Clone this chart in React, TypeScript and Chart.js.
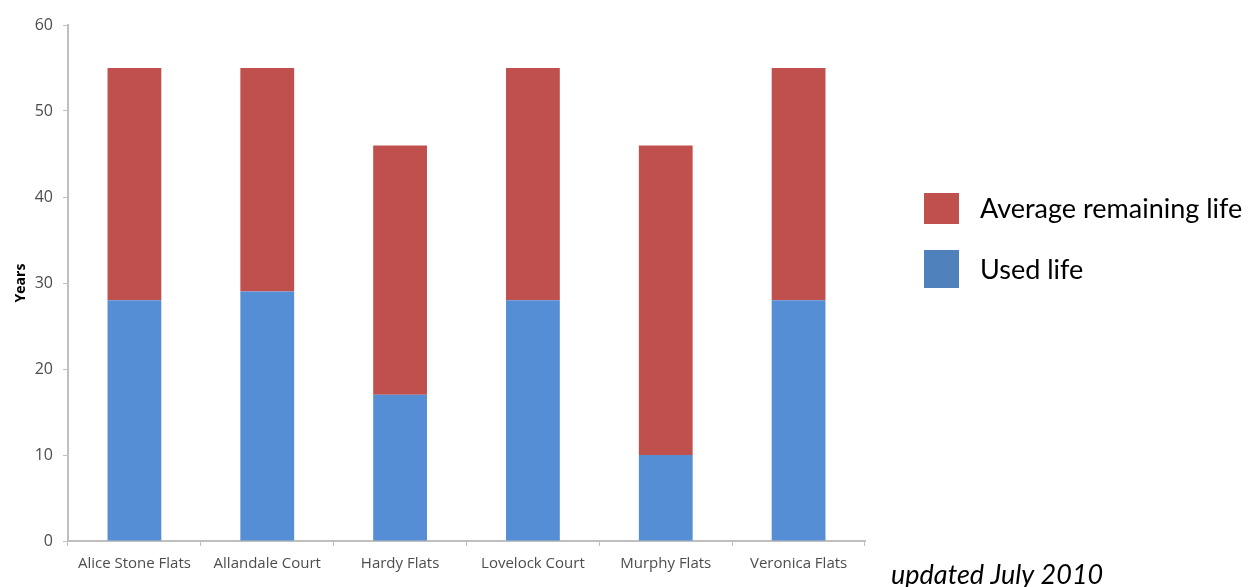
import React, { useEffect, useRef } from "react";
import { Chart, registerables } from "chart.js";

Chart.register(...registerables);

const categories = ["Alice Stone Flats", "Allandale Court", "Hardy Flats", "Lovelock Court", "Murphy Flats", "Veronica Flats"];
const usedLife = [28, 29, 17, 28, 10, 28];
const remainingLife = [27, 26, 29, 27, 36, 27];
const yTicks = [0, 10, 20, 30, 40, 50, 60];
const footnote = "updated July 2010";

const legendColors = { remaining: "#C0504D", used: "#4F81BD" };

const overlayPlugin = {
  id: "overlay",
  afterDraw(chart: any) {
    const ctx = chart.ctx;
    ctx.save();
    const items = [
      { label: chart.data.datasets[1].label, color: legendColors.remaining, y: 193, h: 31 },
      { label: chart.data.datasets[0].label, color: legendColors.used, y: 250, h: 38 },
    ];
    ctx.font = "27px Lato";
    ctx.textBaseline = "middle";
    for (const it of items) {
      ctx.fillStyle = it.color;
      ctx.fillRect(924, it.y, 35, it.h);
      ctx.fillStyle = "#000";
      ctx.fillText(it.label, 980, it.y + it.h / 2 + 1);
    }
    ctx.font = "italic 27px Lato";
    ctx.fillText(footnote, 891, 575);
    ctx.restore();
  },
};

export default function App() {
  const ref = useRef<HTMLCanvasElement>(null);
  useEffect(() => {
    const chart = new Chart(ref.current!, {
      type: "bar",
      data: {
        labels: categories,
        datasets: [
          { label: "Used life", data: usedLife, backgroundColor: "#558ED5", categoryPercentage: 1, barPercentage: 0.405 },
          { label: "Average remaining life", data: remainingLife, backgroundColor: "#C0504D", categoryPercentage: 1, barPercentage: 0.405 },
        ],
      },
      options: {
        animation: false,
        responsive: false,
        layout: { padding: { top: 25, right: 384, bottom: 0, left: 0 } },
        plugins: { legend: { display: false }, tooltip: { enabled: false } },
        scales: {
          x: {
            stacked: true,
            grid: { drawOnChartArea: false, color: "#BFBFBF", tickLength: 5 },
            border: { color: "#BFBFBF", width: 2 },
            ticks: { color: "#4D4D4D", font: { family: "Open Sans", size: 15 }, padding: 9, maxRotation: 0 },
            afterFit: (s: any) => { s.height = 46; },
          },
          y: {
            stacked: true,
            min: 0,
            max: 60,
            afterBuildTicks: (s: any) => { s.ticks = yTicks.map((v) => ({ value: v })); },
            grid: { drawOnChartArea: false, color: "#BFBFBF", tickLength: 5 },
            border: { color: "#BFBFBF", width: 2 },
            ticks: { color: "#4D4D4D", font: { family: "Open Sans", size: 16 }, padding: 10 },
            title: { display: true, text: "Years", color: "#000", font: { family: "Open Sans", size: 14, weight: "bold" }, padding: { top: 13, bottom: 2 } },
            afterFit: (s: any) => { s.width = 68; },
          },
        },
      },
      plugins: [overlayPlugin],
    });
    return () => chart.destroy();
  }, []);
  return (
    <div style={{ position: "absolute", left: 0, top: 0 }}>
      <canvas ref={ref} width={1249} height={587} />
    </div>
  );
}
